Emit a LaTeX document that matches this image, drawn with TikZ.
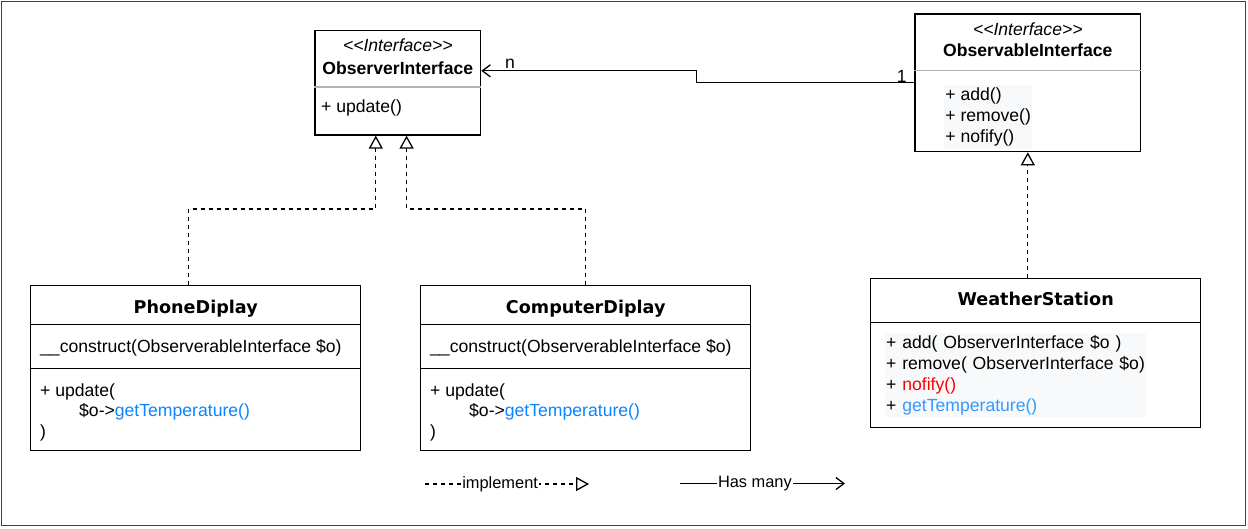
\documentclass[tikz,border=0pt]{standalone}
\usepackage{fontspec}
\setmainfont{Liberation Sans}
\newfontfamily\titlefont{DejaVu Sans}
\usepackage{tikz}
\usetikzlibrary{arrows.meta, positioning, calc}
\definecolor{tempblue}{HTML}{0A84FF}
\definecolor{wsblue}{HTML}{3399FF}
\definecolor{notered}{HTML}{FF0000}
\definecolor{methodfill}{HTML}{F8F9FA}
\definecolor{rulegray}{HTML}{B3B3B3}
\definecolor{framegray}{HTML}{404040}
\tikzset{classbox/.style={rectangle,draw,line width=1.3pt,fill=white,inner sep=0pt},
         divider/.style={line width=1.3pt},
         softdivider/.style={line width=1.3pt,draw=rulegray},
         classname/.style={anchor=base,inner sep=0pt,font=\titlefont\bfseries\fontsize{17.6}{21}\selectfont},
         ifacename/.style={anchor=base,inner sep=0pt,font=\bfseries\fontsize{17.6}{21}\selectfont},
         stereo/.style={anchor=base,inner sep=0pt,font=\itshape\fontsize{17.6}{21}\selectfont},
         member/.style={anchor=base west,inner sep=0pt},
         members/.style={anchor=north west,inner sep=0pt,align=left,font=\fontsize{17.6}{20.5}\selectfont},
         methodbox/.style={anchor=north west,fill=methodfill,align=left},
         multlabel/.style={anchor=base,inner sep=0pt},
         legendtext/.style={fill=white,inner sep=1pt,font=\fontsize{16.4}{20}\selectfont},
         implement/.style={dash pattern=on 4pt off 4pt,line width=1.3pt,
                           -{Triangle[open,length=13pt,width=14pt,fill=white]}},
         hasmany/.style={line width=1.3pt,-{Straight Barb[length=8pt,width=12pt]}}}

\begin{document}
\begin{tikzpicture}[x=1pt,y=-1pt,font=\fontsize{17.6}{21}\selectfont]
    \useasboundingbox (0,0) rectangle (1248,528);
    \draw[framegray,line width=1.5pt] (1.5,1.5) rectangle (1245.5,525.5);

    % interfaces
    \node (obsi) [classbox,minimum width=165.7pt,minimum height=104.3pt] at (397.8,82.8) {};
    \draw[softdivider] ($(obsi.north west)+(0,57)$) -- ($(obsi.north east)+(0,57)$);
    \node (obsistereo) [stereo] at (397.8,51) {<\kern0pt<Interface>\kern0pt>};
    \node (obsiname) [ifacename] at (397.8,74) {ObserverInterface};
    \node (obsiupdate) [member] at (321,112) {+ update()};

    \node (subj) [classbox,minimum width=225.7pt,minimum height=137.7pt] at (1027.8,82.8) {};
    \draw[softdivider] ($(subj.north west)+(0,57)$) -- ($(subj.north east)+(0,57)$);
    \node (subjstereo) [stereo] at (1027.8,35) {<\kern0pt<Interface>\kern0pt>};
    \node (subjname) [ifacename] at (1027.8,56.7) {ObservableInterface};
    \node (subjops) [methodbox,inner xsep=1.2pt,inner ysep=2.6pt] at (944,85)
        {+ add()\\+ remove()\\+ nofify()};

    % classes
    \node (phone) [classbox,minimum width=330pt,minimum height=165pt] at (195.7,368.2) {};
    \draw[divider] ($(phone.north west)+(0,39.3)$) -- ($(phone.north east)+(0,39.3)$);
    \draw[divider] ($(phone.north west)+(0,83.6)$) -- ($(phone.north east)+(0,83.6)$);
    \node (phonename) [classname] at (195.7,313) {PhoneDiplay};
    \node (phonector) [member] at (40,352) {\_\_construct(ObserverableInterface \$o)};
    \node (phoneupdate) [members] at (40,383.3)
        {+ update(\\\hspace*{39pt}\$o->\textcolor{tempblue}{getTemperature()}\\)};

    \node (comp) [classbox,minimum width=330pt,minimum height=165pt] at (585.7,368.2) {};
    \draw[divider] ($(comp.north west)+(0,39.3)$) -- ($(comp.north east)+(0,39.3)$);
    \draw[divider] ($(comp.north west)+(0,83.6)$) -- ($(comp.north east)+(0,83.6)$);
    \node (compname) [classname] at (585.7,313) {ComputerDiplay};
    \node (compctor) [member] at (430,352) {\_\_construct(ObserverableInterface \$o)};
    \node (compupdate) [members] at (430,383.3)
        {+ update(\\\hspace*{39pt}\$o->\textcolor{tempblue}{getTemperature()}\\)};

    \node (ws) [classbox,minimum width=330pt,minimum height=149pt] at (1035.7,352.8) {};
    \draw[divider] ($(ws.north west)+(0,44.7)$) -- ($(ws.north east)+(0,44.7)$);
    \node (wsname) [classname] at (1035.7,305) {WeatherStation};
    \node (wsops) [methodbox,text width=259pt,inner xsep=1pt,inner ysep=2.3pt] at (885,333)
        {+ add( ObserverInterface \$o )\\+ remove( ObserverInterface \$o)\\
         + \textcolor{notered}{nofify()}\\+ \textcolor{wsblue}{getTemperature()}};

    % relations
    \draw[hasmany] (subj.west) -- ++(-218,0) |- ([yshift=12pt]obsi.east);
    \node (multn) [multlabel] at (510,68) {n};
    \node (multone) [multlabel] at (901.7,82.7) {1};
    \draw[implement] ([xshift=-7.2pt]phone.north) -- ++(0,-76) -| ([xshift=-22pt]obsi.south);
    \draw[implement] (comp.north) -- ++(0,-76) -| ([xshift=8.8pt]obsi.south);
    \draw[implement] (subj.south |- ws.north) -- (subj.south);

    % legend
    \coordinate (implfrom) at (425,484);
    \coordinate (implto) at (589,484);
    \draw[implement] (implfrom) -- node[legendtext,pos=0.458] (impllabel) {implement} (implto);
    \coordinate (hasfrom) at (680,483.5);
    \coordinate (hasto) at (845,483.5);
    \draw[hasmany] (hasfrom) -- node[legendtext,pos=0.454] (haslabel) {Has many} (hasto);
\end{tikzpicture}
\end{document}
